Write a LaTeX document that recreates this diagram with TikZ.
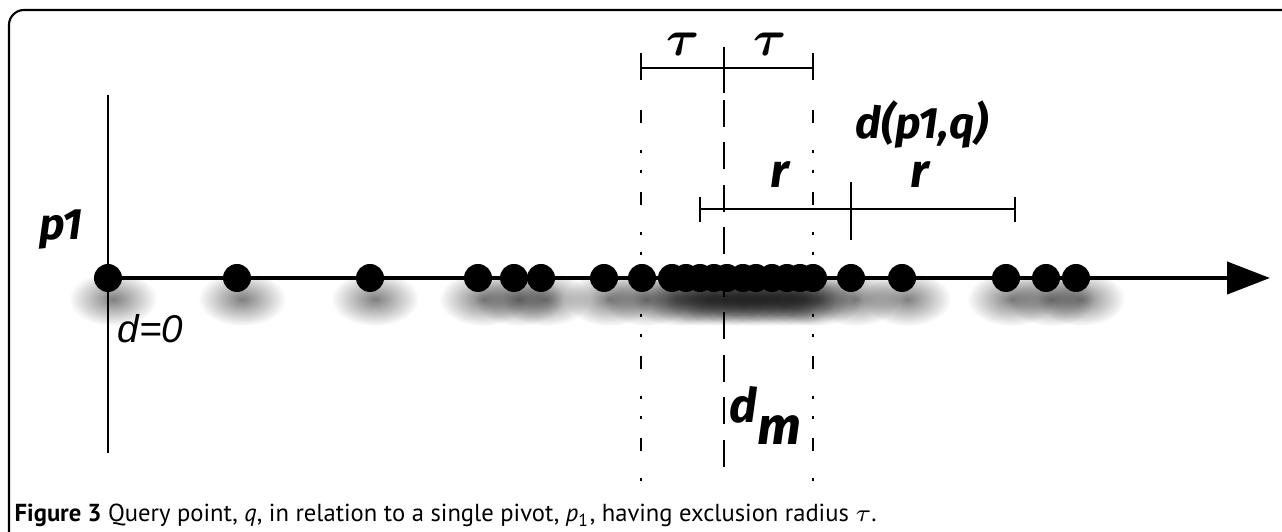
\documentclass[tikz,border=0pt]{standalone}
\usepackage{amsmath,bm}
\usepackage{fontspec}
\setmainfont{PT Sans}
\newfontfamily\lblfont{Fira Sans}
\newfontfamily\thinfont{Liberation Sans}
\usetikzlibrary{arrows.meta,fadings,positioning}
\tikzfading[name=dotfade,inner color=transparent!50,outer color=transparent!100]

\begin{document}
\begin{tikzpicture}[
  dot/.style={circle,fill=black,inner sep=0pt,minimum size=2.8mm},
  dotshadow/.style={fill=black,path fading=dotfade},
  axis/.style={line width=1.2pt,-{Triangle[length=4.3mm,width=3.2mm]}},
  bar/.style={line width=.7pt},
  midline/.style={line width=.7pt,dash pattern=on .27cm off .155cm},
  tauline/.style={line width=.7pt,dash pattern=on .13cm off .27cm on .03cm off .17cm on .03cm off .19cm},
  lbl/.style={font=\fontsize{12.5}{14}\selectfont\lblfont\bfseries\itshape,inner sep=0pt},
  big/.style={font=\fontsize{13.5}{15}\selectfont\lblfont\bfseries\itshape,inner sep=0pt},
  greek/.style={font=\fontsize{14}{16}\selectfont,inner sep=0pt}]
  \useasboundingbox (0,0) rectangle (12.82,5.32);
  \draw[line width=.6pt,rounded corners=1.5mm] (0.09,0) -- (0.09,5.22) -- (12.82,5.22);

  \coordinate (o) at (1.08,2.54);
  \coordinate (tip) at (12.70,2.54);
  \coordinate (vtop) at (1.08,4.37);
  \coordinate (vbot) at (1.08,0.79);
  \foreach \x in {1.08,2.37,3.70,4.78,5.14,5.41,6.04,6.42,6.72,6.88,7.03,7.18,7.31,7.45,7.58,7.72,7.87,8.00,8.13,8.51,9.02,10.06,10.46,10.76}
    \fill[dotshadow] (\x+0.05,2.33) ellipse [x radius=.44,y radius=.27];
  \draw[line width=.7pt] (vtop) -- (vbot);
  \draw[axis] (o) -- (tip);
  \foreach \x [count=\i] in {1.08,2.37,3.70,4.78,5.14,5.41,6.04,6.42,6.72,6.86,7.00,7.14,7.27,7.43,7.56,7.72,7.87,8.00,8.13,8.51,9.02,10.06,10.46,10.76}
    \node[dot] (d\i) at (\x,2.54) {};

  \coordinate (tl) at (6.41,4.64);
  \coordinate (tm) at (7.24,4.64);
  \coordinate (tr) at (8.13,4.64);
  \draw[bar] (tl) -- (tr);
  \draw[bar] ([yshift=1.5mm]tl) -- ([yshift=-1.2mm]tl);
  \draw[bar] ([yshift=1.5mm]tr) -- ([yshift=-1.2mm]tr);
  \draw[bar] ([yshift=2.1mm]tm) -- ([yshift=-2.5mm]tm);
  \node[greek] (tau1) at (6.83,4.88) {$\bm{\tau}$};
  \node[greek] (tau2) at (7.70,4.88) {$\bm{\tau}$};

  \coordinate (lt) at (6.41,4.22);
  \coordinate (lb) at (6.41,0.47);
  \coordinate (rt) at (8.13,4.22);
  \coordinate (rb) at (8.13,0.47);
  \coordinate (mt) at (7.24,4.32);
  \coordinate (mb) at (7.24,0.54);
  \draw[tauline] (lt) -- (lb);
  \draw[tauline] (rt) -- (rb);
  \draw[midline] (mt) -- (mb);

  \coordinate (rl) at (7.00,3.23);
  \coordinate (rm) at (8.51,3.23);
  \coordinate (rr) at (10.15,3.23);
  \draw[bar] (rl) -- (rr);
  \draw[bar] ([yshift=1.2mm]rl) -- ([yshift=-1.3mm]rl);
  \draw[bar] ([yshift=1.2mm]rr) -- ([yshift=-1.3mm]rr);
  \draw[bar] ([yshift=2.7mm]rm) -- ([yshift=-3.1mm]rm);
  \node[big] (r1) at (7.80,3.57) {r};
  \node[big] (r2) at (9.20,3.57) {r};
  \node[lbl] (dpq) at (9.22,4.07) {d(p1,q)};

  \node[lbl] (p1) at (0.61,3.02) {p1};
  \node[font=\fontsize{11}{13}\selectfont\thinfont\itshape,inner sep=0pt,anchor=base west] (d0) at (1.17,1.89) {d=0};
  \node[big,anchor=base west] (dm) at (7.29,1.09) {d\raisebox{-.22cm}{\fontsize{15}{16}\selectfont m}};

  \node[font=\fontsize{7}{8}\selectfont,inner sep=0pt,anchor=base west] (cap) at (0.14,0.10)
    {\textbf{Figure 3} Query point, \textit{q}, in relation to a single pivot, \textit{p}\textsubscript{1}, having exclusion radius $\tau$.};
\end{tikzpicture}
\end{document}
